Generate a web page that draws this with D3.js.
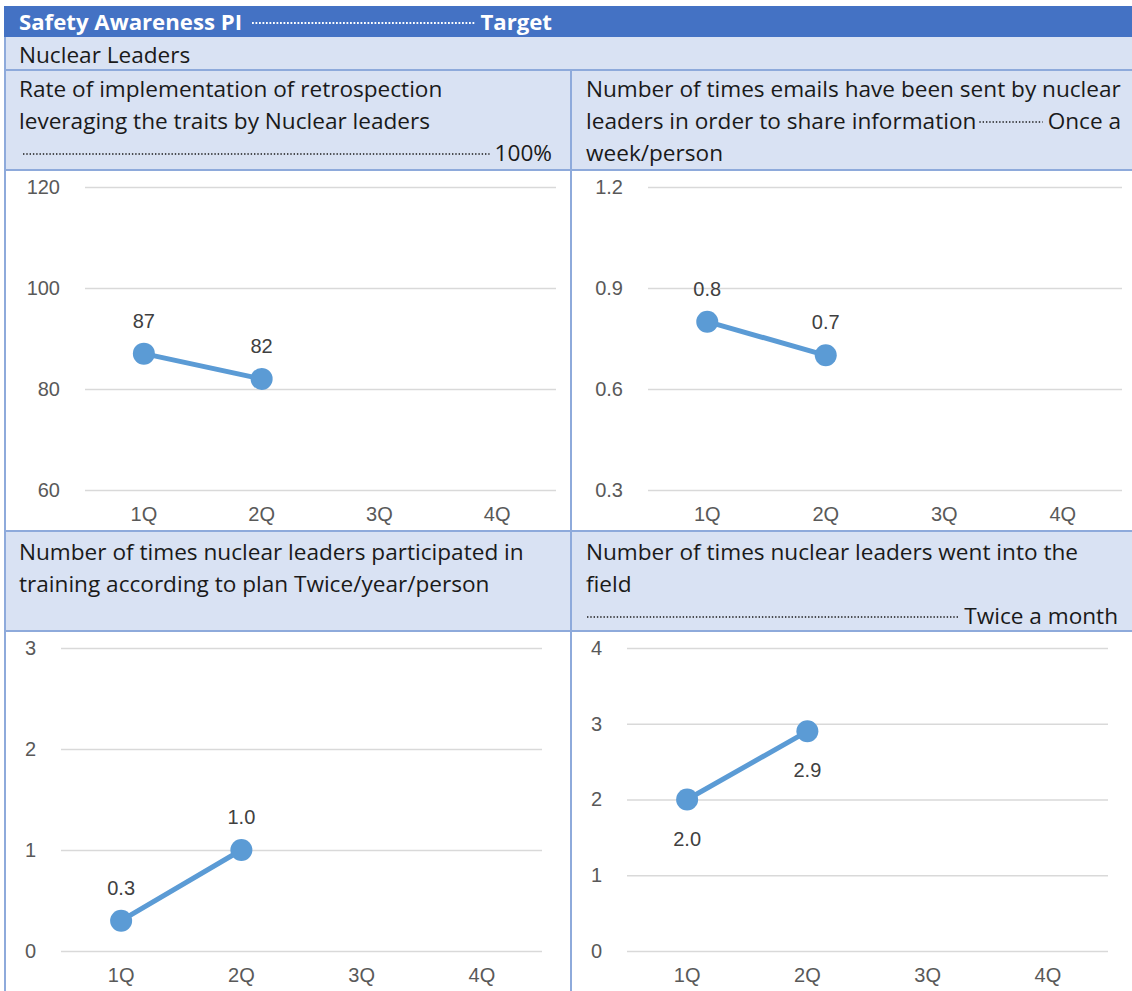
<!DOCTYPE html>
<html>
<head>
<meta charset="utf-8">
<script src="https://cdn.jsdelivr.net/npm/d3@7"></script>
<style>
  html, body { margin: 0; padding: 0; background: #fff; }
  svg { display: block; }
</style>
</head>
<body>
<svg id="board" width="1132" height="991"></svg>
<script>
// Quarter categories shared by all four panels
const quarters = ["1Q", "2Q", "3Q", "4Q"];

// Series values (only 1Q and 2Q reported so far)
const retrospectionRate = [87, 82];
const emailsSent = [0.8, 0.7];
const trainingCount = [0.3, 1.0];
const fieldVisits = [2.0, 2.9];

// Value-axis ticks per panel
const retrospectionTicks = [60, 80, 100, 120];
const emailTicks = [0.3, 0.6, 0.9, 1.2];
const trainingTicks = [0, 1, 2, 3];
const fieldTicks = [0, 1, 2, 3, 4];

// Header texts
const boardTitle = "Safety Awareness PI";
const boardTarget = "Target";
const groupName = "Nuclear Leaders";

const svg = d3.select("#board");
const HEAD_FONT = "'Open Sans', 'Noto Sans', sans-serif";
const AXIS_FONT = "'Liberation Sans', Arial, sans-serif";
const HEAD_SIZE = 22.6;
const BORDER = "#8EAADB";
const CELL = "#D9E2F3";
const SERIES = "#5B9BD5";

svg.append("rect").attr("width", 1132).attr("height", 991).attr("fill", "#fff");

// ---- header rows ----
svg.append("rect").attr("x", 4).attr("y", 6).attr("width", 1128).attr("height", 31).attr("fill", "#4472C4");
svg.append("rect").attr("x", 4).attr("y", 37).attr("width", 1128).attr("height", 33).attr("fill", CELL);
svg.append("rect").attr("x", 4).attr("y", 71).attr("width", 1128).attr("height", 99).attr("fill", CELL);
svg.append("rect").attr("x", 4).attr("y", 531).attr("width", 1128).attr("height", 100).attr("fill", CELL);

const titleRow = svg.append("g").attr("font-family", HEAD_FONT).attr("font-weight", 700)
  .attr("font-size", 22.2).attr("fill", "#fff");
titleRow.append("text").attr("x", 19).attr("y", 30).text(boardTitle);
titleRow.append("text").attr("x", 552).attr("y", 30).attr("text-anchor", "end").text(boardTarget);
svg.append("line").attr("x1", 252).attr("x2", 475).attr("y1", 23).attr("y2", 23)
  .attr("stroke", "#fff").attr("stroke-width", 2.2).attr("stroke-dasharray", "1.8 1.7");

svg.append("text").attr("x", 19).attr("y", 63).attr("font-family", HEAD_FONT)
  .attr("font-size", HEAD_SIZE).attr("fill", "#1a1a1a").text(groupName);

// Panel headings: wrapped lines; a leader row ends in a right-aligned target text,
// its dotted leader running from after the preceding text (or a fixed start) up to the target.
const headings = [
  { x: 19, y: 97, lines: ["Rate of implementation of retrospection", "leveraging the traits by Nuclear leaders", ""],
    leader: { line: 2, start: 23, text: "100%", right: 552 } },
  { x: 586, y: 97, lines: ["Number of times emails have been sent by nuclear", "leaders in order to share information", "week/person"],
    leader: { line: 1, text: "Once a", right: 1121 } },
  { x: 19, y: 560, lines: ["Number of times nuclear leaders participated in", "training according to plan Twice/year/person"] },
  { x: 586, y: 560, lines: ["Number of times nuclear leaders went into the", "field", ""],
    leader: { line: 2, start: 587, text: "Twice a month", right: 1118 } }
];

headings.forEach(h => {
  const g = svg.append("g").attr("font-family", HEAD_FONT).attr("font-size", HEAD_SIZE).attr("fill", "#1a1a1a");
  const rows = h.lines.map((t, i) => g.append("text").attr("x", h.x).attr("y", h.y + i * 32).text(t));
  if (h.leader) {
    const L = h.leader;
    const baseY = h.y + L.line * 32;
    const target = g.append("text").attr("x", L.right).attr("y", baseY).attr("text-anchor", "end").text(L.text);
    const tStart = L.right - target.node().getComputedTextLength();
    const lStart = L.start != null ? L.start : h.x + rows[L.line].node().getComputedTextLength() + 3;
    g.append("line").attr("x1", lStart).attr("x2", tStart - 5).attr("y1", baseY - 7).attr("y2", baseY - 7)
      .attr("stroke", "#1a1a1a").attr("stroke-width", 1.5).attr("stroke-dasharray", "1.4 1.9");
  }
});

// ---- grid borders ----
const borders = svg.append("g").attr("stroke", BORDER).attr("stroke-width", 2);
[[4, 70, 1132, 70], [4, 170, 1132, 170], [4, 531, 1132, 531], [4, 631, 1132, 631]]
  .forEach(d => borders.append("line").attr("x1", d[0]).attr("y1", d[1]).attr("x2", d[2]).attr("y2", d[3]));
borders.append("line").attr("x1", 571).attr("y1", 70).attr("x2", 571).attr("y2", 991);
borders.append("line").attr("x1", 5).attr("y1", 37).attr("x2", 5).attr("y2", 991);

// ---- charts ----
const panels = [
  { values: retrospectionRate, ticks: retrospectionTicks, fmtTick: d3.format("d"), fmtVal: d3.format(".0f"),
    x0: 85, x1: 556, yTop: 187, yBot: 490, labelPos: "above" },
  { values: emailsSent, ticks: emailTicks, fmtTick: d3.format(".1f"), fmtVal: d3.format(".1f"),
    x0: 648, x1: 1122, yTop: 187, yBot: 490, labelPos: "above" },
  { values: trainingCount, ticks: trainingTicks, fmtTick: d3.format("d"), fmtVal: d3.format(".1f"),
    x0: 61, x1: 542, yTop: 648, yBot: 951, labelPos: "above" },
  { values: fieldVisits, ticks: fieldTicks, fmtTick: d3.format("d"), fmtVal: d3.format(".1f"),
    x0: 627, x1: 1108, yTop: 648, yBot: 951, labelPos: "below" }
];

panels.forEach(p => {
  const x = d3.scaleBand().domain(quarters).range([p.x0, p.x1]);
  const y = d3.scaleLinear().domain(d3.extent(p.ticks)).range([p.yBot, p.yTop]);
  const g = svg.append("g");

  const yAxis = g.append("g").attr("transform", `translate(${p.x0},0)`)
    .call(d3.axisLeft(y).tickValues(p.ticks).tickFormat(p.fmtTick)
      .tickSize(-(p.x1 - p.x0)).tickPadding(25));
  yAxis.select(".domain").remove();
  yAxis.selectAll(".tick line").attr("stroke", "#D9D9D9").attr("stroke-width", 1.5);
  yAxis.selectAll(".tick text").attr("font-family", AXIS_FONT).attr("font-size", 20).attr("fill", "#595959");

  const xAxis = g.append("g").attr("transform", `translate(0,${p.yBot})`)
    .call(d3.axisBottom(x).tickSize(0).tickPadding(17));
  xAxis.select(".domain").remove();
  xAxis.selectAll(".tick text").attr("font-family", AXIS_FONT).attr("font-size", 20).attr("fill", "#595959");

  const pts = p.values.map((v, i) => ({ q: quarters[i], v }));
  const cx = d => x(d.q) + x.bandwidth() / 2;

  g.append("path").datum(pts)
    .attr("d", d3.line().x(cx).y(d => y(d.v)))
    .attr("fill", "none").attr("stroke", SERIES).attr("stroke-width", 5).attr("stroke-linecap", "round");

  g.selectAll("circle").data(pts).join("circle")
    .attr("cx", cx).attr("cy", d => y(d.v)).attr("r", 11).attr("fill", SERIES);

  g.selectAll("text.val").data(pts).join("text").attr("class", "val")
    .attr("x", cx).attr("y", d => y(d.v) + (p.labelPos === "above" ? -33 : 39))
    .attr("dy", "0.35em").attr("text-anchor", "middle")
    .attr("font-family", AXIS_FONT).attr("font-size", 20).attr("fill", "#404040")
    .text(d => p.fmtVal(d.v));
});
</script>
</body>
</html>
